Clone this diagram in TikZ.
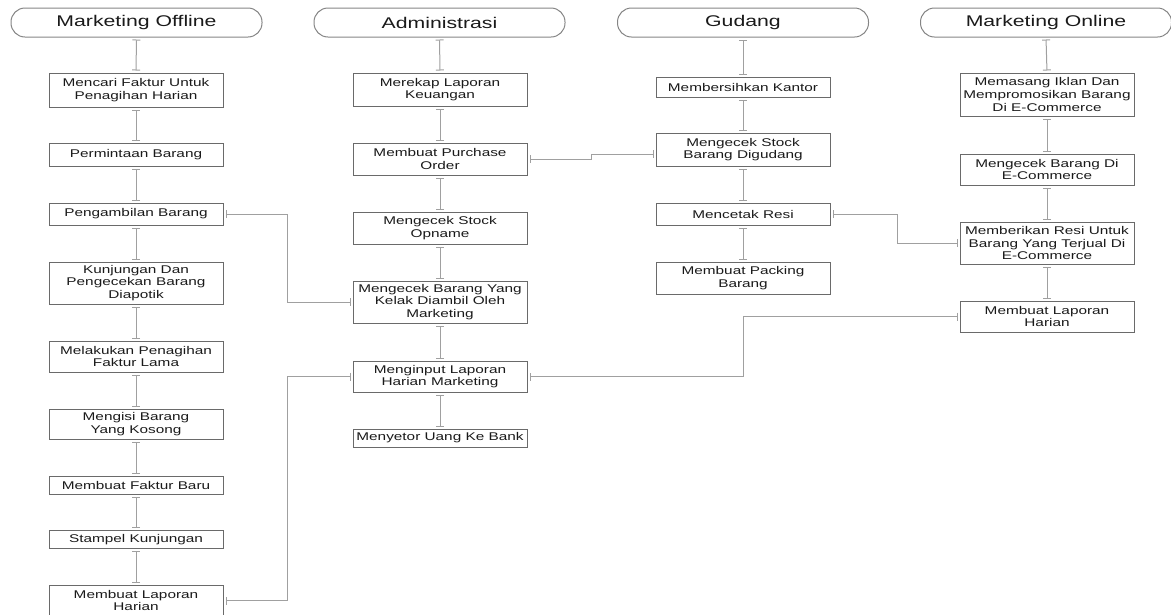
\documentclass[tikz,border=0pt]{standalone}
\usepackage{fontspec}
\setmainfont{Liberation Sans}[FakeStretch=1.37]
\usetikzlibrary{arrows.meta}
\definecolor{boxline}{HTML}{6A6A6A}
\definecolor{hdrline}{HTML}{858585}
\definecolor{conline}{HTML}{A0A0A0}
\definecolor{txt}{HTML}{1A1A1A}
\tikzset{
  box/.style={draw=boxline, line width=1pt, minimum width=174pt, inner sep=0pt, align=center,
    text=txt, font=\fontsize{11.2}{12.7}\selectfont},
  hdr/.style={draw=hdrline, line width=1pt, rounded corners=14pt, minimum width=251pt, minimum height=29pt,
    inner sep=0pt, text=txt, font=\fontsize{15.5}{17}\selectfont},
  con/.style={draw=conline, line width=1pt, {Bar[width=8pt,line width=1pt]}-{Bar[width=8pt,line width=1pt]},
    shorten <=2pt, shorten >=2pt},
}
\begin{document}
\begin{tikzpicture}[x=1pt,y=-1pt]
\useasboundingbox (0,0) rectangle (1171,614);
\clip (0,0) rectangle (1171,614);
% headers
\node[hdr] (h1) at (136.5,22.5) {Marketing Offline};
\node[hdr] (h2) at (439.5,22.5) {Administrasi};
\node[hdr] (h3) at (743,22.5) {Gudang};
\node[hdr] (h4) at (1046,22.5) {Marketing Online};
% Marketing Offline
\node[box, minimum height=34pt] (mo1) at (136,90) {Mencari Faktur Untuk\\Penagihan Harian};
\node[box, minimum height=23pt] (mo2) at (136,155) {Permintaan Barang};
\node[box, minimum height=22pt] (mo3) at (136,214) {Pengambilan Barang};
\node[box, minimum height=42pt] (mo4) at (136,283) {Kunjungan Dan\\Pengecekan Barang\\Diapotik};
\node[box, minimum height=31pt] (mo5) at (136,356.5) {Melakukan Penagihan\\Faktur Lama};
\node[box, minimum height=30pt] (mo6) at (136,424) {Mengisi Barang\\Yang Kosong};
\node[box, minimum height=18pt] (mo7) at (136,485.5) {Membuat Faktur Baru};
\node[box, minimum height=18pt] (mo8) at (136,539.5) {Stampel Kunjungan};
\node[box, minimum height=31pt] (mo9) at (136,600.5) {Membuat Laporan\\Harian};
% Administrasi
\node[box, minimum height=33pt] (ad1) at (440,89.5) {Merekap Laporan\\Keuangan};
\node[box, minimum height=32pt] (ad2) at (440,159) {Membuat Purchase\\Order};
\node[box, minimum height=32pt] (ad3) at (440,228) {Mengecek Stock\\Opname};
\node[box, minimum height=42pt] (ad4) at (440,302) {Mengecek Barang Yang\\Kelak Diambil Oleh\\Marketing};
\node[box, minimum height=31pt] (ad5) at (440,376.5) {Menginput Laporan\\Harian Marketing};
\node[box, minimum height=18pt] (ad6) at (440,438) {Menyetor Uang Ke Bank};
% Gudang
\node[box, minimum height=20pt] (gd1) at (743,87) {Membersihkan Kantor};
\node[box, minimum height=33pt] (gd2) at (743,149.5) {Mengecek Stock\\Barang Digudang};
\node[box, minimum height=22pt] (gd3) at (743,214) {Mencetak Resi};
\node[box, minimum height=32pt] (gd4) at (743,278) {Membuat Packing\\Barang};
% Marketing Online
\node[box, minimum height=43pt] (on1) at (1047,94.5) {Memasang Iklan Dan\\Mempromosikan Barang\\Di E-Commerce};
\node[box, minimum height=31pt] (on2) at (1047,169.5) {Mengecek Barang Di\\E-Commerce};
\node[box, minimum height=42pt] (on3) at (1047,243) {Memberikan Resi Untuk\\Barang Yang Terjual Di\\E-Commerce};
\node[box, minimum height=31pt] (on4) at (1047,316.5) {Membuat Laporan\\Harian};
% vertical connectors
\foreach \a/\b in {h1/mo1,mo1/mo2,mo2/mo3,mo3/mo4,mo4/mo5,mo5/mo6,mo6/mo7,mo7/mo8,mo8/mo9,
  h2/ad1,ad1/ad2,ad2/ad3,ad3/ad4,ad4/ad5,ad5/ad6,
  h3/gd1,gd1/gd2,gd2/gd3,gd3/gd4,
  h4/on1,on1/on2,on2/on3,on3/on4}
  \draw[con] (\a.south) -- (\b.north);
% cross connectors
\draw[con] (mo3.east) -- ++(64,0) |- (ad4.west);
\draw[con] (mo9.east) -- ++(64,0) |- (ad5.west);
\coordinate (k1) at (591,154);
\draw[con] (ad2.east) -| (k1) -- (k1 -| gd2.west);
\draw[con] (gd3.east) -- ++(67,0) |- (on3.west);
\draw[con] (on4.west) -- ++(-216,0) |- (ad5.east);
\end{tikzpicture}
\end{document}
